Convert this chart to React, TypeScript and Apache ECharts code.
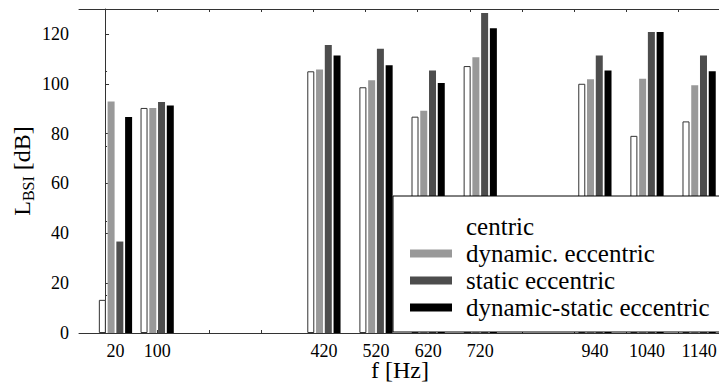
import React, { useEffect, useRef } from 'react';
import * as echarts from 'echarts';

const frequencies = [20, 100, 420, 520, 620, 720, 940, 1040, 1140];
const xTickValues = [0, 100, 200, 300, 400, 500, 600, 700, 800, 900, 1000, 1100];
const yTickLabels = [0, 20, 40, 60, 80, 100, 120];
const seriesNames = ['centric', 'dynamic. eccentric', 'static eccentric', 'dynamic-static eccentric'];
const centric = [13.3, 90.3, 105.0, 98.6, 86.8, 107.1, 100.0, 79.1, 84.9];
const dynamicEccentric = [92.9, 90.3, 105.7, 101.4, 89.2, 110.6, 101.8, 102.0, 99.4];
const staticEccentric = [36.7, 92.7, 115.6, 114.1, 105.3, 128.4, 111.3, 120.8, 111.3];
const dynamicStaticEccentric = [86.7, 91.3, 111.3, 107.4, 100.3, 122.3, 105.3, 120.8, 105.0];

const FONT = 'Liberation Serif';

export default function App() {
  const ref = useRef<HTMLDivElement>(null);
  useEffect(() => {
    const chart = echarts.init(ref.current!, null, { renderer: 'svg' });
    const values = [centric, dynamicEccentric, staticEccentric, dynamicStaticEccentric];
    const fills = ['#ffffff', '#999999', '#4d4d4d', '#000000'];
    const series = values.map((vals, i) => ({
      name: seriesNames[i],
      type: 'bar',
      xAxisIndex: 0,
      yAxisIndex: 0,
      barWidth: 7,
      barGap: '25%',
      data: frequencies.map((f, j) => [f, vals[j]]),
      itemStyle: i === 0
        ? { color: fills[i], borderColor: '#333333', borderWidth: 1 }
        : { color: fills[i], borderWidth: 0 },
    }));
    const axisLine = { show: true, lineStyle: { color: '#333333', width: 1 } };
    chart.setOption({
      animation: false,
      backgroundColor: '#ffffff',
      textStyle: { fontFamily: FONT },
      grid: { left: 79, top: 9, width: 642, bottom: 50, containLabel: false, outerBoundsMode: 'none' },
      legend: {
        orient: 'vertical',
        left: 393,
        top: 196,
        padding: [18, 20, 12, 17],
        itemWidth: 42,
        itemHeight: 8,
        itemGap: 2,
        backgroundColor: '#ffffff',
        borderColor: '#000000',
        borderWidth: 1,
        icon: 'rect',
        textStyle: { fontFamily: FONT, fontSize: 25, color: '#000', padding: [0, 0, 0, 9] },
        data: [
          { name: seriesNames[0], itemStyle: { color: '#ffffff', borderWidth: 0 } },
          { name: seriesNames[1] },
          { name: seriesNames[2] },
          { name: seriesNames[3] },
        ],
      },
      xAxis: [
        {
          type: 'value',
          position: 'bottom',
          min: -50,
          max: 1182,
          axisLine,
          splitLine: { show: false },
          axisTick: { show: true, inside: true, length: 3, customValues: xTickValues, lineStyle: { color: '#333' } },
          axisLabel: { customValues: frequencies, formatter: (v: number) => String(v), fontFamily: FONT, fontSize: 18, color: '#000', margin: 9 },
          name: 'f [Hz]',
          nameLocation: 'middle',
          nameGap: 25,
          nameMoveOverlap: false,
          nameTextStyle: { fontFamily: FONT, fontSize: 24, color: '#000' },
        },
        {
          type: 'value',
          position: 'top',
          min: -50,
          max: 1182,
          axisLine,
          splitLine: { show: false },
          axisTick: { show: true, inside: true, length: 3, customValues: xTickValues, lineStyle: { color: '#333' } },
          axisLabel: { show: false },
        },
      ],
      yAxis: [
        {
          type: 'value',
          min: 0,
          max: 130,
          axisLine,
          splitLine: { show: false },
          axisTick: { show: true, inside: true, length: 4, customValues: yTickLabels, lineStyle: { color: '#333' } },
          minorTick: { show: true, splitNumber: 2, length: 2, lineStyle: { color: '#333' } },
          axisLabel: { customValues: yTickLabels, fontFamily: FONT, fontSize: 18, color: '#000', margin: 10 },
          name: '{a|L}{b|BSI}{a| [dB]}',
          nameLocation: 'middle',
          nameGap: 43,
          nameMoveOverlap: false,
          nameTextStyle: {
            fontFamily: FONT,
            rich: {
              a: { fontFamily: FONT, fontSize: 24, color: '#000' },
              b: { fontFamily: FONT, fontSize: 16, color: '#000', padding: [12, 0, 0, 0] },
            },
          },
        },
      ],
      series,
    });
    return () => chart.dispose();
  }, []);
  return <div ref={ref} style={{ width: 719, height: 383, position: 'absolute', left: 0, top: 0 }} />;
}
